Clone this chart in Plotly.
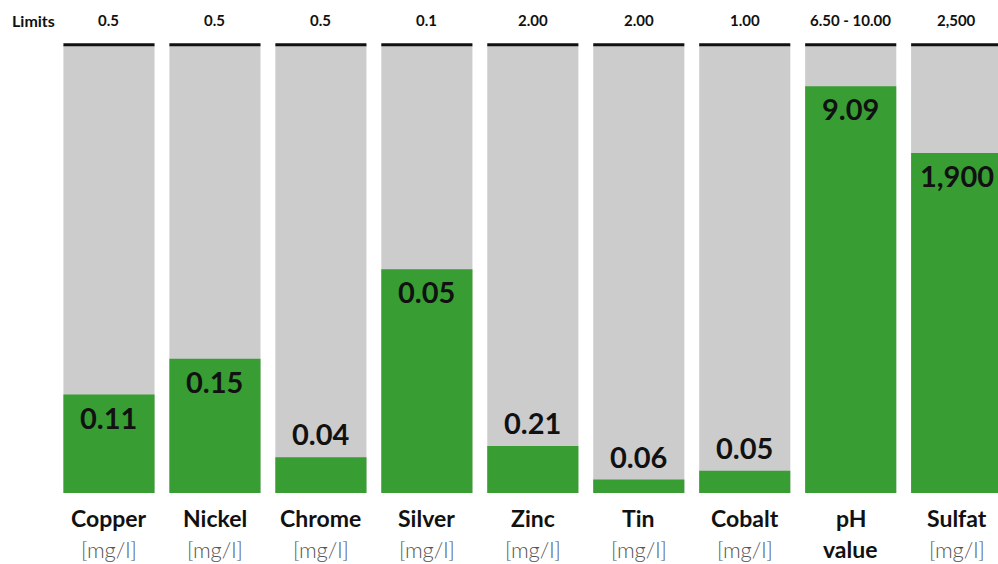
import plotly.graph_objects as go

# Measured concentrations and their permitted limits
parameters = ["Copper", "Nickel", "Chrome", "Silver", "Zinc", "Tin", "Cobalt", "pH", "Sulfat"]
name_lines = ["Copper", "Nickel", "Chrome", "Silver", "Zinc", "Tin", "Cobalt", "pH", "Sulfat"]
unit_lines = ["[mg/l]", "[mg/l]", "[mg/l]", "[mg/l]", "[mg/l]", "[mg/l]", "[mg/l]", "value", "[mg/l]"]
measured = [0.11, 0.15, 0.04, 0.05, 0.21, 0.06, 0.05, 9.09, 1900]
measured_text = ["0.11", "0.15", "0.04", "0.05", "0.21", "0.06", "0.05", "9.09", "1,900"]
limit_max = [0.5, 0.5, 0.5, 0.1, 2.00, 2.00, 1.00, 10.00, 2500]
limit_text = ["0.5", "0.5", "0.5", "0.1", "2.00", "2.00", "1.00", "6.50 - 10.00", "2,500"]

GREEN = "#389e34"
GREY = "#cccccc"
FONT = "Lato"

share = [m / l for m, l in zip(measured, limit_max)]
xs = list(range(len(parameters)))
BAR_W = 0.86

fig = go.Figure()
fig.add_trace(go.Bar(x=xs, y=[1] * len(xs), width=BAR_W, marker=dict(color=GREY, line_width=0),
                     hoverinfo="skip"))
fig.add_trace(go.Bar(x=xs, y=share, width=BAR_W, marker=dict(color=GREEN, line_width=0),
                     customdata=measured_text, hovertemplate="%{customdata}<extra></extra>"))

annotations = []
shapes = []
for i, (s, txt) in enumerate(zip(share, measured_text)):
    inside = s > 0.15
    annotations.append(dict(
        x=i, y=s, xref="x", yref="y", text=txt, showarrow=False,
        yanchor="top" if inside else "bottom", yshift=-3 if inside else 4,
        font=dict(family=FONT, size=29, color="#111111", weight=700)))
    annotations.append(dict(
        x=i, y=1, xref="x", yref="paper", text=limit_text[i], showarrow=False,
        yanchor="middle", yshift=22,
        font=dict(family=FONT, size=15, color="#111111", weight=700)))
    annotations.append(dict(
        x=i, y=0, xref="x", yref="paper", text=name_lines[i], showarrow=False,
        yanchor="middle", yshift=-25,
        font=dict(family=FONT, size=23, color="#111111", weight=700)))
    unit_bold = unit_lines[i] == "value"
    annotations.append(dict(
        x=i, y=0, xref="x", yref="paper", text=unit_lines[i], showarrow=False,
        yanchor="middle", yshift=-56,
        font=dict(family=FONT, size=23 if unit_bold else 22,
                  color="#111111" if unit_bold else "#555555",
                  weight=700 if unit_bold else 300)))
    shapes.append(dict(type="line", xref="x", yref="y", x0=i - BAR_W / 2, x1=i + BAR_W / 2,
                       y0=1.002, y1=1.002, line=dict(color="#111111", width=3)))

# "Limits" heading in the left margin
annotations.append(dict(
    x=-0.024, y=1, xref="paper", yref="paper", text="Limits", showarrow=False,
    xanchor="center", yanchor="middle", yshift=22,
    font=dict(family=FONT, size=16, color="#111111", weight=700)))

fig.update_layout(
    width=998, height=564,
    margin=dict(l=56, r=0, t=42, b=71),
    paper_bgcolor="white", plot_bgcolor="white",
    barmode="overlay", showlegend=False,
    xaxis=dict(range=[-0.5, 8.39], showticklabels=False, showgrid=False, zeroline=False,
               fixedrange=True),
    yaxis=dict(range=[0, 1.008], showticklabels=False, showgrid=False, zeroline=False,
               fixedrange=True),
    annotations=annotations, shapes=shapes,
    font=dict(family=FONT),
)

fig.write_html("out.html")
